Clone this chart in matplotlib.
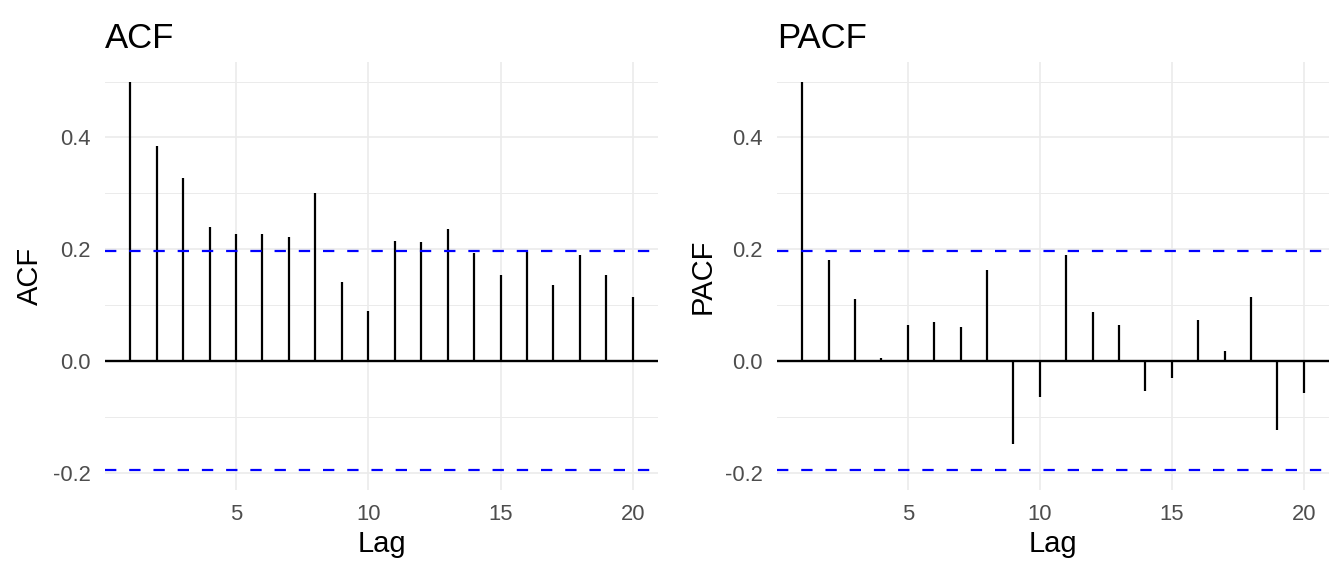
import numpy as np
import matplotlib
matplotlib.use('Agg')
import matplotlib.pyplot as plt
from matplotlib.ticker import FixedLocator

plt.rcParams['font.family'] = ['Liberation Sans', 'DejaVu Sans']

# values
lags = list(range(1, 21))
acf_vals = [0.499, 0.385, 0.328, 0.239, 0.228, 0.227, 0.222, 0.300, 0.142, 0.090,
            0.215, 0.213, 0.237, 0.194, 0.154, 0.195, 0.136, 0.190, 0.154, 0.114]
pacf_vals = [0.499, 0.181, 0.111, 0.006, 0.065, 0.070, 0.060, 0.163, -0.148, -0.065,
             0.190, 0.087, 0.065, -0.053, -0.030, 0.073, 0.017, 0.115, -0.123, -0.058]
ci = 0.196

W, H = 1344, 576
fig = plt.figure(figsize=(W / 100, H / 100), dpi=100)

grid_col = '#EBEBEB'


def panel(left, right, vals, name):
    ax = fig.add_axes([left / W, (H - 490) / H, (right - left) / W, (490 - 62) / H])
    ax.set_xlim(0.05, 20.95)
    ax.set_ylim(-0.231, 0.535)
    for s in ax.spines.values():
        s.set_visible(False)

    ax.xaxis.set_major_locator(FixedLocator([5, 10, 15, 20]))
    ax.yaxis.set_major_locator(FixedLocator([-0.2, 0.0, 0.2, 0.4]))
    ax.yaxis.set_minor_locator(FixedLocator([-0.1, 0.1, 0.3, 0.5]))
    ax.set_yticklabels(['-0.2', '0.0', '0.2', '0.4'])
    ax.grid(True, which='major', color=grid_col, lw=1.2, zorder=0)
    ax.grid(True, which='minor', axis='y', color=grid_col, lw=0.7, zorder=0)
    ax.tick_params(which='both', length=0, labelsize=15.8, labelcolor='#4D4D4D')
    ax.tick_params(axis='x', pad=10)
    ax.tick_params(axis='y', pad=10)
    ax.set_axisbelow(True)

    ax.axhline(0, color='black', lw=1.7, zorder=2)
    ax.axhline(ci, color='blue', lw=1.6, ls=(0, (5.1, 5.8)), zorder=3)
    ax.axhline(-ci, color='blue', lw=1.6, ls=(0, (5.1, 5.8)), zorder=3)
    ax.vlines(lags, 0, vals, color='black', lw=1.6, zorder=2)

    ax.set_xlabel('Lag', fontsize=21, labelpad=4)
    ax.set_ylabel(name, fontsize=21, labelpad=6.5)
    ax.set_title(name, fontsize=25, loc='left', pad=10)
    return ax


panel(105, 658, acf_vals, 'ACF')
panel(777, 1329, pacf_vals, 'PACF')

fig.savefig('out.png', dpi=100)
